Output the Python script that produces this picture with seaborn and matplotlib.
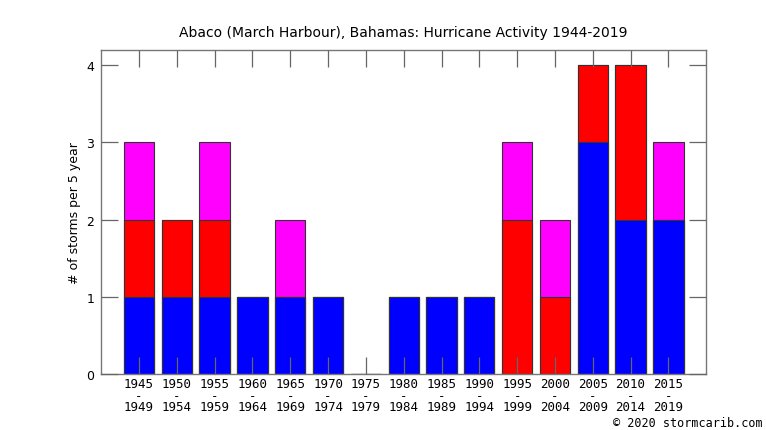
import seaborn as sns
import pandas as pd
import matplotlib.pyplot as plt

periods = ["1945\n-\n1949", "1950\n-\n1954", "1955\n-\n1959", "1960\n-\n1964",
           "1965\n-\n1969", "1970\n-\n1974", "1975\n-\n1979", "1980\n-\n1984",
           "1985\n-\n1989", "1990\n-\n1994", "1995\n-\n1999", "2000\n-\n2004",
           "2005\n-\n2009", "2010\n-\n2014", "2015\n-\n2019"]
blue_counts = [1, 1, 1, 1, 1, 1, 0, 1, 1, 1, 0, 0, 3, 2, 2]
red_counts = [1, 1, 1, 0, 0, 0, 0, 0, 0, 0, 2, 1, 1, 2, 0]
magenta_counts = [1, 0, 1, 0, 1, 0, 0, 0, 0, 0, 1, 1, 0, 0, 1]

df = pd.DataFrame({"period": periods, "blue": blue_counts,
                   "red": red_counts, "magenta": magenta_counts})
df["lvl2"] = df["blue"] + df["red"]
df["lvl3"] = df["lvl2"] + df["magenta"]

sns.set_style("white")
plt.rcParams["font.family"] = ["DejaVu Sans"]

fig = plt.figure(figsize=(7.66, 4.31), dpi=100)
fig.patch.set_facecolor("white")
ax = fig.add_axes([0.132, 0.130, 0.790, 0.752])

edge = dict(edgecolor="#333333", linewidth=0.8)
sns.barplot(data=df, x="period", y="lvl3", color="#ff00ff", saturation=1,
            width=0.8, ax=ax, **edge)
sns.barplot(data=df, x="period", y="lvl2", color="#ff0000", saturation=1,
            width=0.8, ax=ax, **edge)
sns.barplot(data=df, x="period", y="blue", color="#0000ff", saturation=1,
            width=0.8, ax=ax, **edge)

ax.set_xlim(-1, len(periods))
ax.set_ylim(0, 4.2)
ax.set_yticks([0, 1, 2, 3, 4])
ax.set_xlabel("")
ax.set_ylabel("# of storms per 5 year", fontsize=9, color="black")
ax.set_title("Abaco (March Harbour), Bahamas: Hurricane Activity 1944-2019",
             fontsize=10, pad=10, color="black")

for lbl in ax.get_xticklabels():
    lbl.set_family("DejaVu Sans Mono")
    lbl.set_fontsize(9)
    lbl.set_linespacing(0.88)
for lbl in ax.get_yticklabels():
    lbl.set_fontsize(9)

ax.tick_params(axis="both", direction="in", length=12, width=0.9,
               color="#666666", labelcolor="black", top=True, right=True,
               bottom=True, left=True, pad=5)
ax.tick_params(axis="x", pad=2)
ax.set_axisbelow(False)
for s in ax.spines.values():
    s.set_color("#777777")
    s.set_linewidth(1.0)

fig.text(0.995, 0.003, "\u00a9 2020 stormcarib.com", ha="right", va="bottom",
         family="DejaVu Sans Mono", fontsize=8.5, color="black")

fig.savefig("out.png", dpi=100, facecolor="white")
